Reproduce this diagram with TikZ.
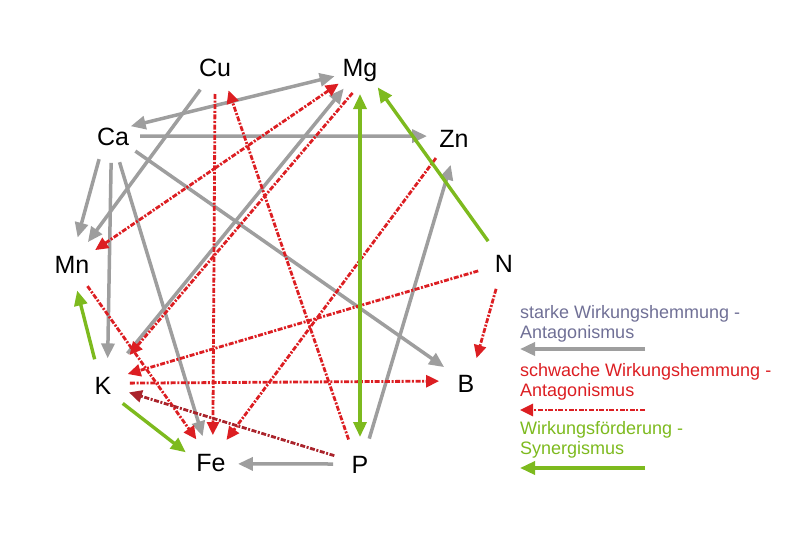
\documentclass[tikz,border=0pt]{standalone}
\usepackage{fontspec}
\setmainfont{Liberation Sans}
\usepackage{xcolor}
\usetikzlibrary{arrows.meta}

\definecolor{strongc}{RGB}{158,158,158}
\definecolor{strongtxt}{RGB}{112,112,150}
\definecolor{weakc}{RGB}{220,30,34}
\definecolor{weakdark}{RGB}{170,36,44}
\definecolor{sync}{RGB}{125,186,30}

\tikzset{
    gtip/.tip={Triangle[length=15pt,width=13pt]},
    rtip/.tip={Triangle[length=13pt,width=12pt]},
    stip/.tip={Triangle[length=15pt,width=13pt]}
}

\begin{document}
\begin{tikzpicture}
    [x=1pt,y=-1pt,
     elem/.style={circle,minimum size=54pt,inner sep=0pt,outer sep=0pt,
        font=\fontsize{25}{25}\selectfont,text height=18pt,text depth=0pt},
     strong/.style={draw=strongc,line width=3.5pt,-gtip},
     weak/.style={draw=weakc,line width=2.8pt,
        dash pattern=on 5pt off 1.6pt on 2pt off 1.6pt,-rtip},
     syn/.style={draw=sync,line width=3.4pt,-stip},
     legend/.style={anchor=base west,inner sep=0pt,align=left,
        font=\fontsize{18}{20}\selectfont}]
\useasboundingbox (0,0) rectangle (805,551);
\path
    (215,67) node [elem] (Cu) {Cu}
    (360,67) node [elem] (Mg) {Mg}
    (113,136) node [elem] (Ca) {Ca}
    (454,138) node [elem] (Zn) {Zn}
    (72,264) node [elem] (Mn) {Mn}
    (504,263) node [elem] (N) {N}
    (103,385) node [elem] (K) {K}
    (466,383) node [elem] (B) {B}
    (211,462) node [elem] (Fe) {Fe}
    (360,464) node [elem] (P) {P};
% starke Wirkungshemmung
\draw [strong,gtip-gtip,shorten <=-7pt] (Ca.25) -- (Mg.200);
\draw [strong] (Ca.0) -- (Zn.176);
\draw [strong] (Cu.237) -- (Mn.54);
\draw [strong] (Ca.239) -- (Mn.78);
\draw [strong] (Ca.266) -- (K.80);
\draw [strong] (Ca.284) -- (Fe.108);
\draw [strong] (Ca.326) -- (B.144);
\draw [strong,shorten <=13pt] (K.53) -- (Mg.233);
\draw [strong] (P.70) -- (Zn.263);
\draw [strong] (P.180) -- (Fe.356);
% schwache Wirkungshemmung
\draw [weak] (Cu.270) -- (Fe.86);
\draw [weak] (P.115) -- (Cu.300);
\draw [weak,rtip-rtip] (Mn.31) -- (Mg.218);
\draw [weak,shorten >=13pt] (Mg.254) -- (K.48);
\draw [weak] (Zn.228) -- (Fe.55);
\draw [weak] (N.197) -- (K.24);
\draw [weak] (K.4) -- (B.176);
\draw [weak] (Mn.305) -- (Fe.123);
\draw [weak,draw=weakdark] (P.162) -- (K.344);
\draw [weak] (N.253) -- (B.67);
% Wirkungsfoerderung
\draw [syn,stip-stip] (Mg.270) -- (P.90);
\draw [syn] (N.126) -- (Mg.311);
\draw [syn] (K.108) -- (Mn.281);
\draw [syn] (K.317) -- (Fe.159);
% Legende
\node [legend,text=strongtxt] (lstrong) at (520,338)
    {starke Wirkungshemmung -\\Antagonismus};
\node [legend,text=weakc] (lweak) at (520,396)
    {schwache Wirkungshemmung -\\Antagonismus};
\node [legend,text=sync] (lsyn) at (520,454)
    {Wirkungsförderung -\\Synergismus};
\coordinate (s1) at (645,349);
\coordinate (s0) at (520,349);
\coordinate (w1) at (645,410);
\coordinate (w0) at (520,410);
\coordinate (y1) at (645,468);
\coordinate (y0) at (520,468);
\draw [strong] (s1) -- (s0);
\draw [weak] (w1) -- (w0);
\draw [syn] (y1) -- (y0);
\end{tikzpicture}
\end{document}
